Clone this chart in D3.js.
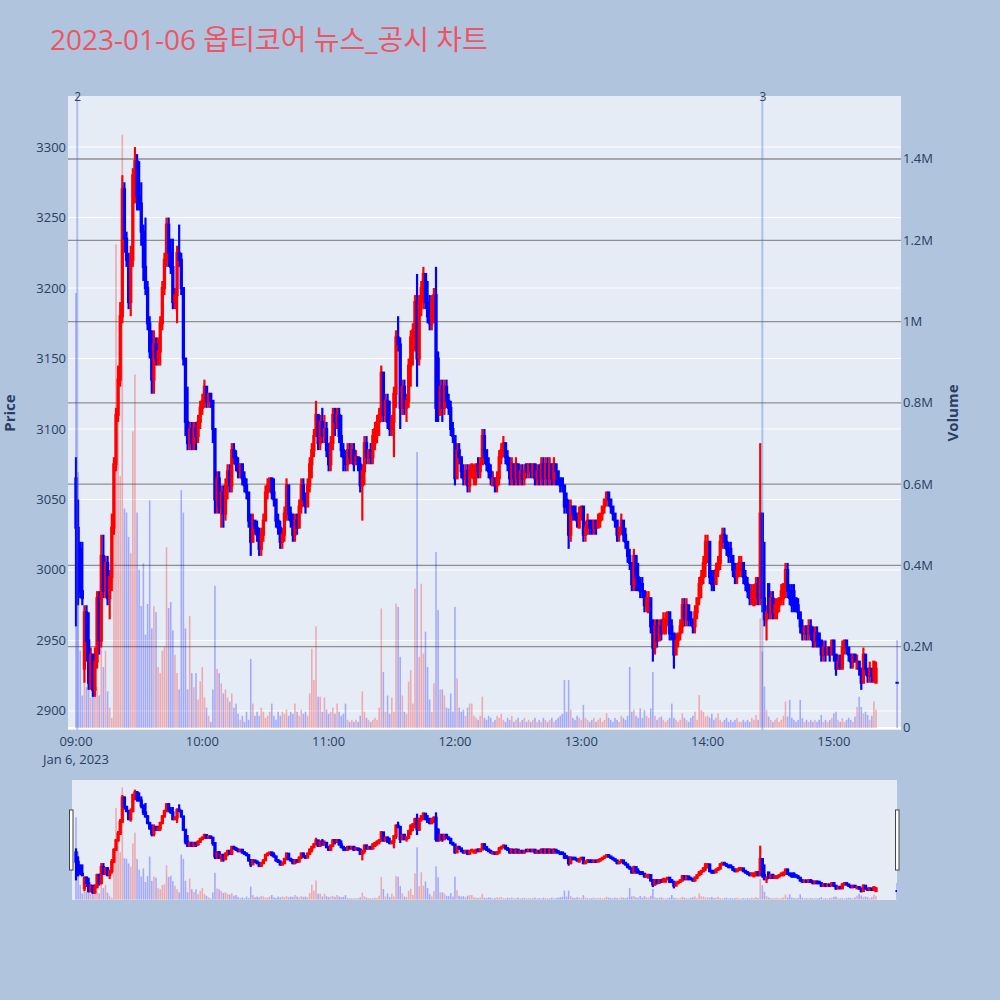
<!DOCTYPE html>
<html><head><meta charset="utf-8">
<script src="https://cdn.jsdelivr.net/npm/d3@7"></script>
<style>body{margin:0;background:#b0c4de}svg{display:block}text{font-family:'Open Sans','Noto Sans CJK KR',sans-serif}</style>
</head><body><svg id="c" width="1000" height="1000"></svg>
<script>
const chartTitle = "2023-01-06 옵티코어 뉴스_공시 차트";
// one-minute candles starting 09:00, consecutive minutes
const openP = [
3065,3030,3015,2985,2930,2970,2950,2920,2940,2915,
2935,2980,2950,3010,2985,3005,2980,2995,3030,3075,
3110,3135,3180,3270,3235,3220,3190,3220,3280,3290,
3265,3260,3240,3215,3200,3175,3155,3135,3160,3150,
3155,3175,3200,3220,3245,3225,3215,3190,3195,3225,
3220,3200,3150,3105,3090,3100,3090,3100,3095,3105,
3115,3120,3130,3120,3125,3120,3100,3050,3065,3045,
3055,3040,3060,3070,3060,3085,3080,3075,3070,3075,
3065,3060,3055,3035,3020,3035,3030,3025,3015,3025,
3035,3055,3060,3065,3055,3050,3035,3030,3020,3025,
3040,3060,3040,3035,3025,3035,3030,3045,3060,3050,
3045,3060,3075,3085,3095,3110,3090,3105,3095,3100,
3085,3075,3090,3110,3105,3110,3095,3085,3080,3075,
3085,3080,3085,3075,3080,3075,3060,3070,3090,3080,
3085,3080,3090,3100,3105,3110,3140,3110,3120,3105,
3100,3105,3125,3165,3160,3115,3130,3115,3120,3145,
3165,3170,3190,3150,3190,3200,3210,3190,3180,3175,
3190,3195,3150,3110,3130,3115,3130,3120,3115,3100,
3095,3065,3085,3080,3070,3065,3070,3060,3070,3065,
3070,3075,3070,3075,3095,3085,3075,3070,3060,3065,
3060,3065,3080,3085,3090,3080,3075,3065,3075,3065,
3075,3065,3070,3065,3075,3070,3075,3070,3075,3065,
3070,3065,3075,3065,3075,3065,3075,3065,3075,3070,
3065,3065,3060,3050,3045,3025,3045,3045,3040,3030,
3040,3045,3025,3030,3035,3035,3030,3035,3030,3035,
3040,3045,3050,3055,3050,3045,3040,3035,3025,3030,
3035,3025,3020,3010,3005,2990,3010,2995,2990,2990,
2985,2975,2970,2980,2960,2945,2960,2950,2960,2955,
2955,2965,2970,2960,2955,2940,2950,2955,2960,2975,
2965,2975,2970,2965,2960,2970,2980,2990,2995,3005,
3015,3020,2995,2995,2990,3000,3005,3020,3025,3020,
3015,3015,3010,3000,2995,3000,3000,3005,2995,2990,
2985,2980,2975,2980,2990,2980,3040,2980,2965,2990,
2970,2980,2970,2970,2975,2980,2980,2990,3000,2985,
2980,2985,2980,2975,2970,2960,2955,2960,2955,2960,
2955,2950,2955,2955,2950,2940,2945,2940,2945,2940,
2950,2940,2930,2935,2930,2945,2950,2945,2940,2935,
2940,2930,2935,2930,2920,2940,2930,2925,2930,2925,
2920];
const highP = [
3080,3050,3020,3020,2975,2975,2970,2945,2940,2945,
2985,2985,3025,3025,3010,3010,3000,3040,3080,3115,
3145,3190,3280,3275,3240,3225,3230,3285,3300,3295,
3290,3275,3245,3250,3205,3180,3170,3170,3165,3165,
3180,3205,3225,3250,3250,3235,3235,3200,3230,3245,
3225,3200,3150,3130,3105,3105,3105,3105,3110,3120,
3125,3135,3130,3125,3125,3120,3100,3070,3070,3060,
3060,3065,3075,3075,3090,3090,3085,3080,3075,3075,
3070,3065,3055,3040,3040,3035,3035,3030,3030,3040,
3060,3065,3065,3065,3065,3050,3040,3035,3030,3045,
3065,3060,3045,3040,3040,3040,3050,3065,3065,3055,
3065,3080,3090,3100,3120,3110,3110,3115,3110,3105,
3090,3095,3115,3115,3115,3115,3110,3090,3085,3090,
3090,3090,3090,3085,3080,3080,3075,3095,3095,3085,
3090,3100,3105,3110,3115,3145,3140,3125,3125,3120,
3110,3130,3170,3180,3165,3135,3135,3125,3150,3170,
3175,3195,3210,3195,3205,3215,3210,3205,3195,3195,
3200,3215,3155,3135,3135,3135,3135,3125,3120,3105,
3095,3090,3090,3080,3075,3075,3075,3075,3075,3075,
3075,3080,3080,3100,3100,3085,3080,3075,3070,3065,
3070,3085,3090,3095,3090,3085,3080,3080,3075,3080,
3075,3075,3075,3075,3075,3075,3075,3075,3075,3075,
3075,3080,3080,3080,3080,3080,3075,3080,3075,3070,
3065,3065,3060,3055,3050,3050,3045,3045,3040,3045,
3045,3045,3035,3040,3035,3035,3035,3035,3040,3040,
3045,3050,3055,3055,3050,3045,3040,3035,3030,3040,
3035,3030,3020,3015,3005,3015,3010,3005,2995,2995,
2985,2985,2985,2980,2965,2965,2965,2965,2965,2970,
2970,2970,2970,2965,2955,2955,2955,2965,2980,2980,
2980,2975,2970,2965,2975,2980,2995,3000,3010,3025,
3025,3020,3000,3000,3005,3010,3025,3030,3030,3025,
3020,3020,3010,3005,3005,3010,3010,3005,3000,2995,
2990,2990,2990,2995,2995,3090,3040,3020,2975,2990,
2985,2985,2980,2980,2980,2990,2990,3005,3005,2990,
2990,2990,2980,2980,2970,2965,2960,2960,2965,2965,
2960,2960,2960,2955,2950,2950,2950,2945,2945,2950,
2950,2940,2940,2940,2950,2950,2950,2945,2940,2940,
2940,2940,2935,2930,2945,2940,2930,2935,2930,2935,
2935];
const lowP = [
2960,2975,2980,2975,2920,2935,2915,2915,2910,2910,
2930,2940,2945,2980,2980,2975,2965,2985,3025,3070,
3105,3130,3175,3225,3215,3185,3180,3215,3260,3255,
3255,3230,3205,3195,3170,3150,3125,3125,3145,3145,
3145,3170,3195,3215,3215,3210,3185,3185,3175,3215,
3195,3145,3095,3085,3085,3085,3085,3085,3090,3100,
3110,3115,3115,3115,3115,3090,3040,3040,3040,3030,
3030,3035,3050,3055,3055,3075,3070,3065,3065,3060,
3055,3050,3030,3010,3020,3025,3020,3010,3010,3020,
3035,3050,3055,3050,3045,3030,3025,3015,3015,3020,
3035,3035,3030,3020,3020,3025,3030,3040,3045,3040,
3045,3055,3065,3080,3095,3085,3085,3090,3090,3080,
3070,3070,3085,3095,3100,3090,3080,3070,3070,3070,
3075,3075,3070,3075,3070,3055,3035,3060,3075,3075,
3075,3075,3085,3090,3095,3105,3105,3105,3100,3095,
3095,3080,3115,3155,3100,3110,3110,3105,3115,3130,
3145,3155,3130,3145,3180,3185,3185,3175,3170,3170,
3175,3105,3105,3110,3105,3110,3115,3110,3095,3090,
3060,3065,3075,3065,3060,3060,3055,3055,3065,3060,
3060,3065,3065,3075,3075,3070,3065,3060,3060,3055,
3055,3060,3075,3080,3075,3070,3060,3060,3060,3060,
3060,3060,3060,3060,3065,3065,3065,3065,3060,3060,
3060,3060,3060,3060,3060,3060,3060,3060,3060,3060,
3055,3055,3040,3040,3015,3020,3035,3035,3030,3030,
3035,3020,3020,3025,3025,3025,3025,3025,3030,3030,
3035,3040,3045,3045,3040,3035,3030,3020,3020,3025,
3020,3015,3005,3000,2985,2985,2985,2985,2980,2980,
2970,2970,2970,2955,2935,2940,2945,2950,2950,2955,
2955,2960,2950,2950,2930,2940,2945,2950,2955,2960,
2960,2960,2960,2955,2955,2965,2975,2980,2990,2995,
3005,2990,2985,2985,2990,2995,3000,3015,3015,3010,
3005,3005,2995,2990,2990,2995,2995,2990,2985,2980,
2975,2975,2975,2975,2975,2975,2970,2960,2950,2965,
2965,2965,2965,2965,2970,2975,2975,2980,2980,2975,
2970,2970,2970,2965,2955,2950,2950,2950,2950,2950,
2945,2945,2945,2945,2935,2935,2935,2940,2935,2940,
2935,2925,2930,2930,2930,2940,2940,2935,2930,2930,
2935,2930,2925,2915,2920,2925,2920,2920,2920,2920,
2920];
const closeP = [
3030,2990,2985,2980,2970,2950,2920,2940,2915,2935,
2980,2950,3010,2985,3005,2980,2995,3030,3075,3110,
3135,3180,3270,3235,3220,3190,3220,3280,3290,3265,
3260,3240,3215,3200,3175,3155,3135,3160,3150,3155,
3175,3200,3220,3245,3225,3215,3190,3195,3225,3220,
3200,3150,3105,3090,3100,3090,3100,3095,3105,3115,
3120,3130,3120,3125,3120,3100,3050,3065,3045,3055,
3040,3060,3070,3060,3085,3080,3075,3070,3075,3065,
3060,3055,3035,3020,3035,3030,3025,3015,3025,3035,
3055,3060,3065,3055,3050,3035,3030,3020,3025,3040,
3060,3040,3035,3025,3035,3030,3045,3060,3050,3045,
3060,3075,3085,3095,3110,3090,3105,3095,3100,3085,
3075,3090,3110,3105,3110,3095,3085,3080,3075,3085,
3080,3085,3075,3080,3075,3060,3070,3090,3080,3085,
3080,3095,3100,3105,3110,3140,3110,3120,3105,3100,
3105,3125,3165,3160,3115,3130,3115,3120,3145,3165,
3170,3190,3150,3190,3200,3210,3190,3180,3175,3190,
3195,3115,3110,3130,3115,3130,3120,3115,3100,3095,
3065,3085,3080,3070,3065,3070,3060,3070,3075,3070,
3075,3070,3075,3095,3080,3075,3070,3065,3065,3060,
3065,3080,3085,3090,3080,3075,3065,3075,3065,3075,
3065,3070,3065,3070,3070,3075,3070,3075,3065,3070,
3065,3075,3065,3075,3065,3075,3065,3075,3070,3065,
3060,3060,3045,3045,3025,3045,3040,3040,3035,3040,
3045,3025,3030,3035,3030,3030,3035,3030,3035,3040,
3045,3050,3055,3050,3045,3040,3035,3025,3030,3035,
3025,3020,3010,3005,2990,3010,2995,2990,2985,2985,
2975,2980,2980,2960,2945,2960,2950,2960,2955,2965,
2965,2970,2955,2955,2940,2950,2955,2960,2975,2965,
2975,2965,2965,2960,2970,2980,2990,2995,3005,3020,
3020,2995,2990,2990,3000,3005,3020,3025,3020,3015,
3010,3010,3000,2995,3000,3005,3005,2995,2990,2985,
2980,2985,2985,2990,2980,3040,2980,2965,2970,2970,
2980,2970,2975,2975,2980,2985,2990,3000,2985,2980,
2975,2975,2975,2970,2960,2955,2960,2955,2960,2955,
2950,2955,2950,2950,2940,2945,2940,2945,2940,2950,
2940,2930,2935,2930,2945,2950,2945,2940,2935,2940,
2935,2935,2930,2920,2940,2930,2925,2930,2925,2935,
2930];
// volume in thousands of shares
const volumeK = [
1070,630,190,80,200,100,200,75,140,200,
100,80,220,150,190,90,50,25,530,1190,
800,620,1460,540,530,470,430,730,870,530,
390,300,405,230,305,560,245,300,285,150,
135,190,200,445,295,310,240,180,135,95,
585,530,245,95,275,135,100,135,70,115,
150,75,50,30,15,95,350,145,135,110,
85,95,75,65,85,50,60,35,20,30,
15,40,20,170,60,30,40,30,50,40,
25,30,40,60,30,20,40,30,40,35,
45,30,40,35,60,40,30,45,35,40,
30,85,195,118,250,77,77,40,75,45,
35,40,50,35,60,40,30,35,60,20,
15,20,15,20,15,30,90,40,25,20,
15,20,25,20,50,294,138,40,80,35,
75,40,306,298,175,80,40,35,114,142,
60,343,679,175,355,183,237,150,70,40,
110,433,290,95,95,80,50,48,85,40,
298,122,50,40,45,30,50,60,60,30,
25,20,30,77,25,20,30,25,15,20,
30,25,35,20,15,25,20,30,15,20,
25,15,20,25,15,20,15,20,25,15,
20,15,25,20,15,20,25,15,20,25,
30,35,118,40,118,45,25,20,30,25,
20,57,25,20,15,20,25,15,20,25,
15,20,36,25,20,15,25,20,15,30,
25,20,30,150,40,45,30,25,48,25,
44,30,25,48,138,30,20,25,28,20,
15,20,25,60,25,20,15,20,36,25,
20,15,25,30,40,20,81,44,40,28,
30,25,35,20,25,36,20,15,20,25,
15,20,15,20,25,15,15,20,15,20,
15,25,20,32,20,270,188,102,44,28,
20,15,20,25,15,20,30,65,28,69,
25,20,15,20,69,24,15,20,15,20,
15,20,15,20,32,15,20,15,20,25,
36,40,20,15,24,15,20,25,20,15,
28,52,77,52,36,40,32,20,30,65,
45];
// closing auction print at 15:30
const auctionBar = {hour: 15, minute: 30, open: 2920, high: 2920, low: 2920, close: 2920, volumeK: 216};
const newsTimes = [[9, 0, 36], [14, 26, 0]];
const newsLabels = ["2", "3"];
const priceTicks = [2900, 2950, 3000, 3050, 3100, 3150, 3200, 3250, 3300];
const volTicks = [0, 200, 400, 600, 800, 1000, 1200, 1400];
const volTickLabels = ["0", "0.2M", "0.4M", "0.6M", "0.8M", "1M", "1.2M", "1.4M"];
const hourTicks = [9, 10, 11, 12, 13, 14, 15];
const dateLabel = "Jan 6, 2023";

const INC = "#ff0000", DEC = "#0000ff", FONT = "#2a3f5f";
const svg = d3.select("#c");
svg.append("rect").attr("width", 1000).attr("height", 1000).attr("fill", "#b0c4de");

const d = (h, m, s = 0) => new Date(2023, 0, 6, h, m, s);
const bars = openP.map((o, i) => ({t: d(9, i), o, h: highP[i], l: lowP[i], c: closeP[i], v: volumeK[i]}));
bars.push({t: d(auctionBar.hour, auctionBar.minute), o: auctionBar.open, h: auctionBar.high, l: auctionBar.low, c: auctionBar.close, v: auctionBar.volumeK});

const L = 68, R = 901, T = 96, B = 730;
const x = d3.scaleTime().domain([d(8, 56, 12), d(15, 31, 52)]).range([L, R]);
const yP = d3.scaleLinear().domain([2886.5, 3336.2]).range([B, T]);
const yV = d3.scaleLinear().domain([-5, 1555]).range([B, T]);

svg.append("rect").attr("x", L).attr("y", T).attr("width", R - L).attr("height", B - T).attr("fill", "#e5ecf6");
const defs = svg.append("defs");
defs.append("clipPath").attr("id", "cp").append("rect").attr("x", L).attr("y", T).attr("width", R - L).attr("height", B - T);
defs.append("clipPath").attr("id", "cs").append("rect").attr("x", 72).attr("y", 780).attr("width", 825).attr("height", 120);

const main = svg.append("g").attr("clip-path", "url(#cp)");
main.selectAll(".pg").data(priceTicks).join("line")
  .attr("x1", L).attr("x2", R).attr("y1", t => yP(t)).attr("y2", t => yP(t))
  .attr("stroke", "#fff").attr("stroke-width", 1);
main.selectAll(".vg").data(volTicks.filter(v => v > 0)).join("line")
  .attr("x1", L).attr("x2", R).attr("y1", v => yV(v)).attr("y2", v => yV(v))
  .attr("stroke", "#8f8f8f").attr("stroke-width", 1.3);
main.append("line").attr("x1", L).attr("x2", R).attr("y1", yV(0)).attr("y2", yV(0))
  .attr("stroke", "#fff").attr("stroke-width", 2);

function drawSeries(g, xs, yp, yv, bw, cw, ww) {
  g.append("g").selectAll("rect").data(bars).join("rect")
    .attr("x", b => xs(b.t) - bw / 2).attr("width", bw)
    .attr("y", b => yv(b.v)).attr("height", b => Math.max(0, yv(0) - yv(b.v)))
    .attr("fill", b => b.c > b.o ? INC : DEC).attr("opacity", 0.28);
  const cg = g.append("g");
  cg.selectAll("line").data(bars).join("line")
    .attr("x1", b => xs(b.t)).attr("x2", b => xs(b.t))
    .attr("y1", b => yp(b.h)).attr("y2", b => yp(b.l))
    .attr("stroke", b => b.c > b.o ? INC : DEC).attr("stroke-width", ww);
  cg.selectAll("rect").data(bars).join("rect")
    .attr("x", b => xs(b.t) - cw / 2).attr("width", cw)
    .attr("y", b => yp(Math.max(b.o, b.c)) - 1)
    .attr("height", b => Math.abs(yp(b.o) - yp(b.c)) + 2)
    .attr("fill", b => b.c > b.o ? INC : DEC);
}
drawSeries(main, x, yP, yV, 1.6, 3.3, 2.2);

newsTimes.forEach((nt, i) => {
  const xx = x(d(nt[0], nt[1], nt[2]));
  svg.append("line").attr("x1", xx).attr("x2", xx).attr("y1", T).attr("y2", B)
    .attr("stroke", "royalblue").attr("stroke-opacity", 0.35).attr("stroke-width", 2);
  svg.append("text").attr("x", xx + 0.5).attr("y", 101).attr("text-anchor", "middle")
    .attr("font-size", 12).attr("fill", FONT).text(newsLabels[i]);
});

svg.selectAll(".pt").data(priceTicks).join("text")
  .attr("x", 66).attr("y", t => yP(t) + 4.5).attr("text-anchor", "end")
  .attr("font-size", 13).attr("fill", FONT).text(t => t);
svg.selectAll(".vt").data(volTicks).join("text")
  .attr("x", 903).attr("y", v => yV(v) + 4.5).attr("text-anchor", "start")
  .attr("font-size", 13).attr("fill", FONT).text((v, i) => volTickLabels[i]);
svg.selectAll(".xt").data(hourTicks).join("text")
  .attr("x", h => x(d(h, 0))).attr("y", 746).attr("text-anchor", "middle")
  .attr("font-size", 13).attr("fill", FONT).text(h => d3.timeFormat("%H:%M")(d(h, 0)));
svg.append("text").attr("x", x(d(9, 0))).attr("y", 764).attr("text-anchor", "middle")
  .attr("font-size", 13).attr("fill", FONT).text(dateLabel);
svg.append("text").attr("transform", "translate(15,413) rotate(-90)").attr("text-anchor", "middle")
  .attr("font-size", 15).attr("font-weight", "bold").attr("fill", FONT).text("Price");
svg.append("text").attr("transform", "translate(958,413) rotate(-90)").attr("text-anchor", "middle")
  .attr("font-size", 15).attr("font-weight", "bold").attr("fill", FONT).text("Volume");

svg.append("text").attr("x", 50).attr("y", 50).attr("font-size", 28).attr("fill", "#ef5464").text(chartTitle);

// range slider
const ySP = d3.scaleLinear().domain(yP.domain()).range([900, 780]);
const ySV = d3.scaleLinear().domain(yV.domain()).range([900, 780]);
svg.append("rect").attr("x", 72).attr("y", 780).attr("width", 825).attr("height", 120).attr("fill", "#e5ecf6");
const sl = svg.append("g").attr("clip-path", "url(#cs)");
drawSeries(sl, x, ySP, ySV, 1.6, 3.3, 2.2);
[69.5, 895.5].forEach(hx => {
  svg.append("rect").attr("x", hx).attr("y", 810).attr("width", 3.5).attr("height", 60)
    .attr("fill", "#fff").attr("stroke", "#444").attr("stroke-width", 1);
});
</script></body></html>
